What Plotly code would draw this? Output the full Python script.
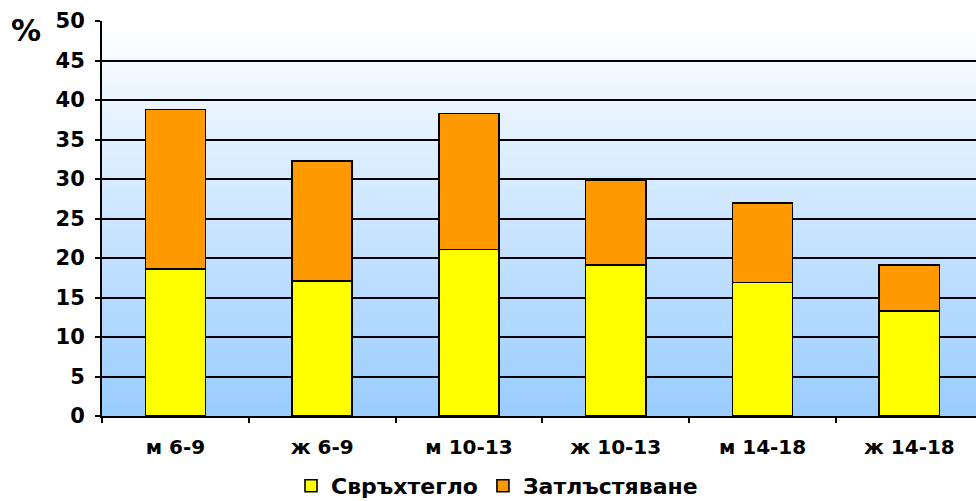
import plotly.graph_objects as go

# Categories (sex + age group) and prevalence values, %
categories = ["м 6-9", "ж 6-9", "м 10-13", "ж 10-13", "м 14-18", "ж 14-18"]
overweight = [18.6, 17.1, 21.1, 19.1, 16.9, 13.3]   # Свръхтегло
obesity = [20.2, 15.2, 17.2, 10.8, 10.1, 5.8]       # Затлъстяване

y_ticks = [0, 5, 10, 15, 20, 25, 30, 35, 40, 45, 50]

FONT = "DejaVu Sans"
W, H = 976, 501
ML, MR, MT, MB = 102, 0, 21, 85
PW, PH = W - ML - MR, H - MT - MB

fig = go.Figure()
fig.add_trace(go.Bar(
    x=categories, y=overweight, name="Свръхтегло",
    marker=dict(color="#FFFF00", line=dict(color="#000000", width=1.6)),
    width=0.41,
))
fig.add_trace(go.Bar(
    x=categories, y=obesity, name="Затлъстяване",
    marker=dict(color="#FF9900", line=dict(color="#000000", width=1.6)),
    width=0.41,
))

# Vertical white-to-light-blue gradient behind the grid
n_bands = 132
top = (255, 255, 255)
bottom = (153, 204, 255)
shapes = []
for i in range(n_bands):
    t = (i + 0.5) / n_bands
    c = tuple(round(bottom[k] + (top[k] - bottom[k]) * t) for k in range(3))
    shapes.append(dict(
        type="rect", xref="x domain", yref="y domain",
        x0=0, x1=1, y0=i / n_bands, y1=(i + 1) / n_bands + 0.002,
        fillcolor="rgb(%d,%d,%d)" % c, line=dict(width=0), layer="below",
    ))

fig.update_layout(
    width=W, height=H,
    margin=dict(l=ML, r=MR, t=MT, b=MB, autoexpand=False),
    barmode="stack",
    paper_bgcolor="#FFFFFF",
    plot_bgcolor="rgba(0,0,0,0)",
    font=dict(family=FONT, size=20, color="#000000", weight="bold"),
    shapes=shapes,
    showlegend=True,
    legend=dict(
        orientation="h", x=(497 - ML) / PW, xanchor="center",
        y=(416 - 486) / PH, yanchor="middle",
        traceorder="normal", font=dict(family=FONT, size=22, weight="bold"),
        itemwidth=30, bgcolor="rgba(0,0,0,0)",
    ),
    annotations=[dict(
        text="%", xref="paper", yref="paper", x=(26 - ML) / PW,
        y=1 + (MT - 30) / PH, xanchor="center", yanchor="middle",
        showarrow=False, font=dict(family=FONT, size=30, weight="bold"),
    )],
)

fig.update_xaxes(
    type="category", range=[-0.5, 5.454],
    showline=True, linecolor="#000000", linewidth=2,
    ticks="outside", ticklen=5, tickcolor="#000000", tickwidth=1.5,
    tickson="boundaries", showgrid=False, ticklabelstandoff=12,
    tickfont=dict(family=FONT, size=20, weight="bold"),
)
fig.update_yaxes(
    range=[0, 50], tickvals=y_ticks,
    showline=True, linecolor="#000000", linewidth=2,
    ticks="outside", ticklen=5, tickcolor="#000000", tickwidth=1.5,
    showgrid=True, gridcolor="#000000", gridwidth=1.6,
    zeroline=False, ticklabelstandoff=6,
    tickfont=dict(family=FONT, size=21, weight="bold"),
)

fig.write_html("out.html")
